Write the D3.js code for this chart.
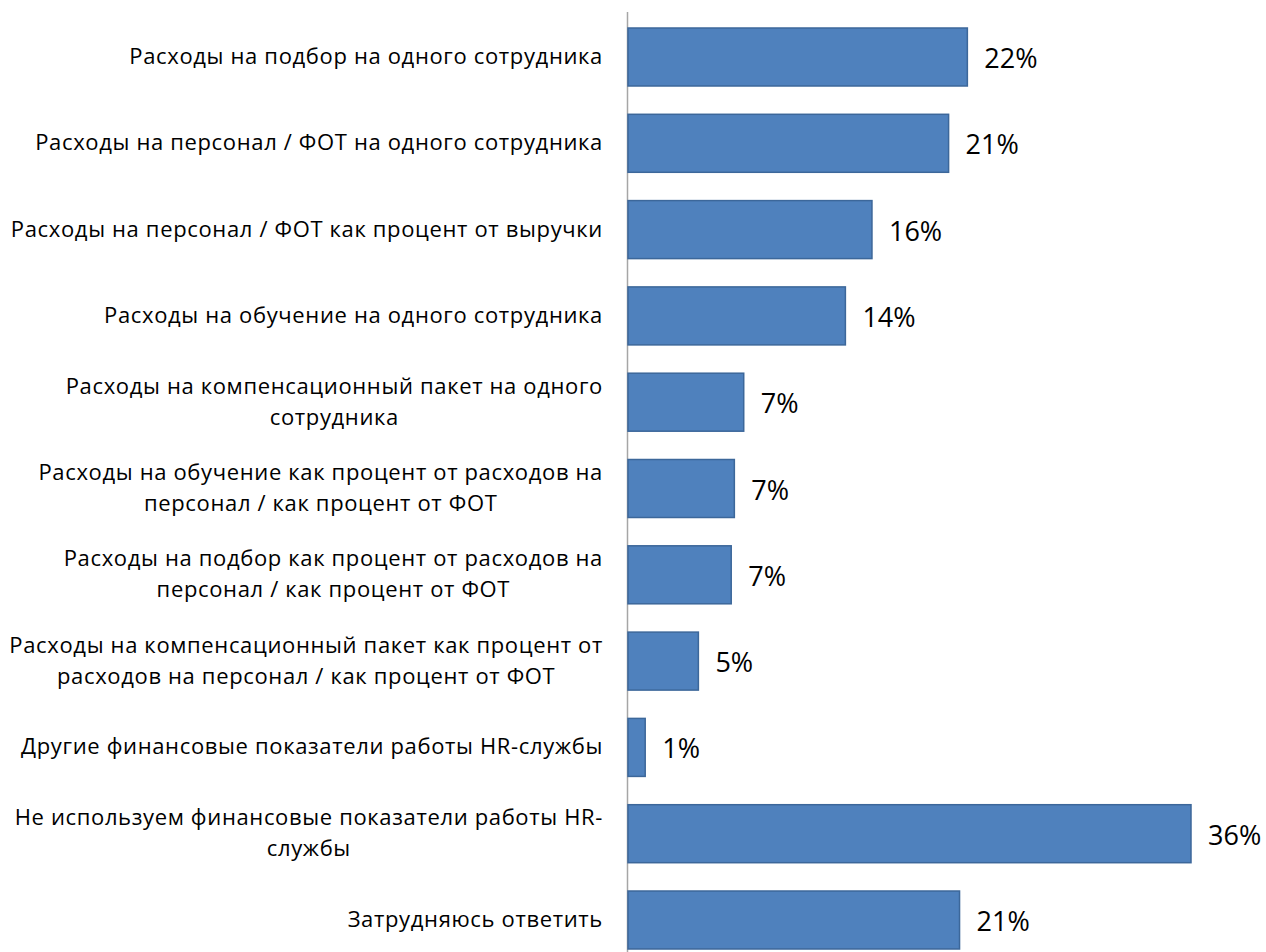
<!DOCTYPE html>
<html>
<head>
<meta charset="utf-8">
<script src="https://cdn.jsdelivr.net/npm/d3@7"></script>
<style>
  body { margin: 0; background: #fff; }
  .cat { font-family: "Open Sans", sans-serif; font-size: 22px; letter-spacing: 0.65px; fill: #000; }
  .val { font-family: "Open Sans", sans-serif; font-size: 27px; fill: #000; }
</style>
</head>
<body>
<svg width="1266" height="952"></svg>
<script>
const categories = [
  "Расходы на подбор на одного сотрудника",
  "Расходы на персонал / ФОТ на одного сотрудника",
  "Расходы на персонал / ФОТ как процент от выручки",
  "Расходы на обучение на одного сотрудника",
  "Расходы на компенсационный пакет на одного|сотрудника",
  "Расходы на обучение как процент от расходов на|персонал / как процент от ФОТ",
  "Расходы на подбор как процент от расходов на|персонал / как процент от ФОТ",
  "Расходы на компенсационный пакет как процент от|расходов на персонал / как процент от ФОТ",
  "Другие финансовые показатели работы HR-службы",
  "Не используем финансовые показатели работы HR-|службы",
  "Затрудняюсь ответить"
];
const values = [21.7, 20.5, 15.6, 13.9, 7.4, 6.8, 6.6, 4.5, 1.1, 36.0, 21.2];
const valueLabels = ["22%", "21%", "16%", "14%", "7%", "7%", "7%", "5%", "1%", "36%", "21%"];

const svg = d3.select("svg");

const data = categories.map((c, i) => ({ cat: c, value: values[i], label: valueLabels[i] }));

const xScale = d3.scaleLinear().domain([0, 36]).range([628, 1191]);

const yScale = d3.scaleBand()
  .domain(categories)
  .range([28, 949])
  .paddingInner(0.328)
  .paddingOuter(0);

// vertical axis line
svg.append("line")
  .attr("x1", 627.5).attr("x2", 627.5)
  .attr("y1", 12).attr("y2", 952)
  .attr("stroke", "#a6a6a6")
  .attr("stroke-width", 1.5);

svg.selectAll(".bar")
  .data(data)
  .enter()
  .append("rect")
  .attr("class", "bar")
  .attr("x", xScale(0))
  .attr("y", d => yScale(d.cat))
  .attr("width", d => xScale(d.value) - xScale(0))
  .attr("height", yScale.bandwidth())
  .attr("fill", "#4f81bd")
  .attr("stroke", "#3c679a")
  .attr("stroke-width", 1.5);

svg.selectAll(".val")
  .data(data)
  .enter()
  .append("text")
  .attr("class", "val")
  .attr("x", d => xScale(d.value) + 17)
  .attr("y", d => yScale(d.cat) + yScale.bandwidth() / 2 + 11)
  .text(d => d.label);

const lineHeight = 31;
const catText = svg.selectAll(".cat")
  .data(data)
  .enter()
  .append("text")
  .attr("class", "cat")
  .attr("text-anchor", "middle")
  .attr("y", d => {
    const n = d.cat.split("|").length;
    return yScale(d.cat) + yScale.bandwidth() / 2 + 7 - (n - 1) * lineHeight / 2;
  });

catText.each(function(d) {
  const lines = d.cat.split("|");
  const t = d3.select(this);
  // block is right aligned to 603, each line centred inside it
  const spans = lines.map((l, i) => t.append("tspan").attr("dy", i === 0 ? 0 : lineHeight).text(l));
  const widths = spans.map(s => s.node().getComputedTextLength());
  const w = d3.max(widths);
  const cx = 603 - w / 2;
  spans.forEach(s => s.attr("x", cx));
});
</script>
</body>
</html>
